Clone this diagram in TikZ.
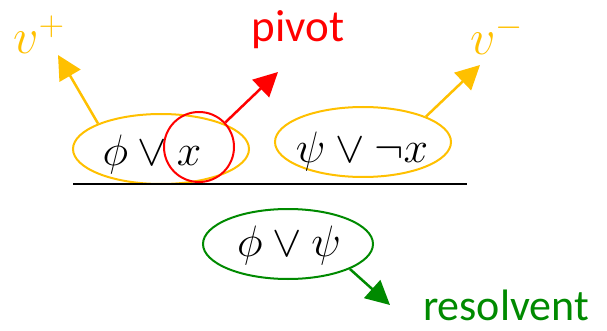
\documentclass[tikz,border=0pt]{standalone}
\usepackage{fix-cm}
\usepackage{fontspec}
\newfontfamily\calib{Carlito}
\usetikzlibrary{shapes.geometric,arrows.meta}
\definecolor{gold}{RGB}{255,192,0}
\definecolor{pivred}{RGB}{255,0,0}
\definecolor{resgreen}{RGB}{0,138,0}
\tikzset{
  oval/.style={ellipse,draw,line width=2pt,inner sep=0pt,minimum width=176pt,minimum height=70pt},
  mathtxt/.style={inner sep=0pt,font=\fontsize{44}{50}\selectfont},
  lbl/.style={inner sep=0pt,anchor=base,font=\calib\fontsize{45}{50}\selectfont},
  bigarrow/.style={line width=2.5pt,-{Triangle[length=24pt,width=24pt]}},
}
\begin{document}
\begin{tikzpicture}[x=1pt,y=-1pt]
\useasboundingbox (0,0) rectangle (607,331);
% ellipses
\node[oval,draw=gold] (e1) at (161,149) {};
\node[oval,draw=gold] (e2) at (363,142) {};
\node[oval,draw=resgreen,minimum width=170pt] (e3) at (288,244) {};
\node[circle,draw=pivred,line width=2pt,inner sep=0pt,minimum size=70pt] (c) at (199,147) {};
% formulas
\node[mathtxt] (t1) at (152,154) {$\phi\vee x$};
\node[mathtxt] (t2) at (362,152) {$\psi\vee\neg x$};
\node[mathtxt] (t3) at (289,245) {$\phi\vee\psi$};
% rule line
\coordinate (l1) at (73,184);
\coordinate (l2) at (467,184);
\draw[line width=2.5pt] (l1) -- (l2);
% labels
\node[mathtxt,text=gold,font=\fontsize{50}{56}\selectfont] (vp) at (39,35) {$v^+$};
\node[mathtxt,text=gold,font=\fontsize{50}{56}\selectfont] (vm) at (497,35) {$v^-$};
\node[lbl,text=pivred] (piv) at (298,42) {pivot};
\node[lbl,text=resgreen,font=\calib\fontsize{44}{48}\selectfont] (res) at (506,320) {resolvent};
% arrow tips
\coordinate (a1) at (58,55);
\coordinate (a2) at (278,72);
\coordinate (a3) at (480,65);
\coordinate (a4) at (390,305);
\draw[bigarrow,draw=gold] (e1.158) -- (a1);
\draw[bigarrow,draw=pivred] (c.43) -- (a2);
\draw[bigarrow,draw=gold] (e2.22) -- (a3);
\draw[bigarrow,draw=resgreen] (e3.-22) -- (a4);
\end{tikzpicture}
\end{document}
